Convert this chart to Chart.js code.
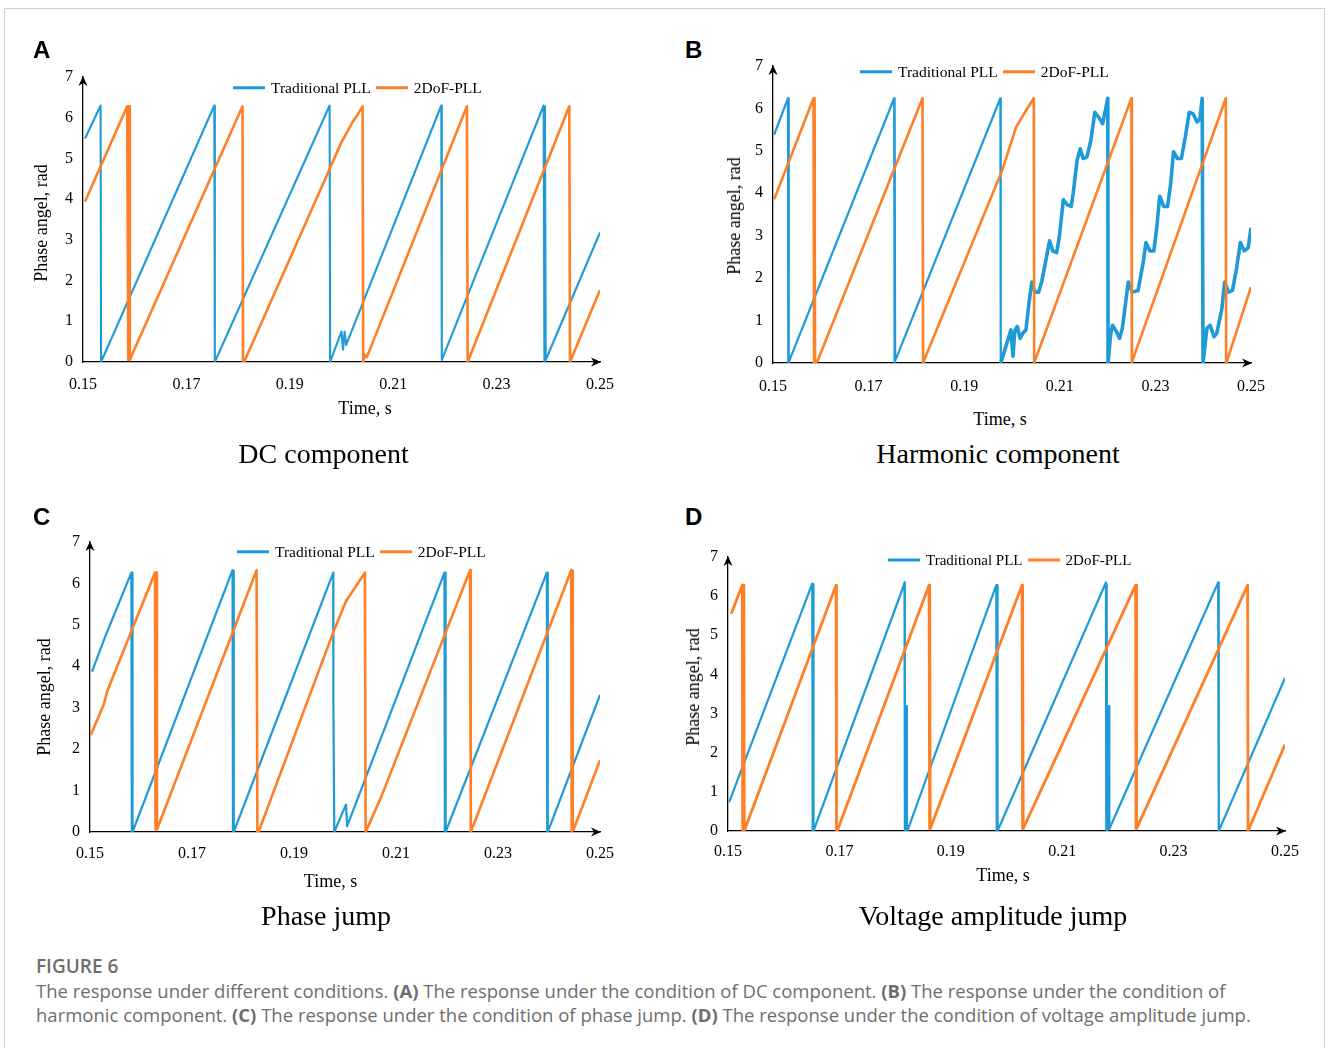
<!DOCTYPE html>
<html><head><meta charset="utf-8">
<script src="https://cdn.jsdelivr.net/npm/chart.js@4.4.0/dist/chart.umd.min.js"></script>
<style>
html,body{margin:0;padding:0;background:#fff;}
body{width:1328px;height:1048px;position:relative;overflow:hidden;font-family:'Liberation Serif','Times New Roman',serif;color:#000;}
.frame{position:absolute;left:4px;top:8px;width:1321px;height:1060px;border:1px solid #cfcfcf;box-sizing:border-box;}
canvas.cv{position:absolute;}
.lbl{position:absolute;white-space:nowrap;transform:translate(-50%,-50%);line-height:1;}
.ytitle{transform:translate(-50%,-50%) rotate(-90deg);}
.letter{position:absolute;font-family:'Liberation Sans',Arial,sans-serif;font-weight:bold;font-size:24px;line-height:1;}
.legend{position:absolute;display:flex;align-items:center;transform:translateY(-50%);white-space:nowrap;line-height:1;}
.legend .sw{display:inline-block;width:32px;height:3px;margin-right:6px;}
.legend .txt{margin-right:5px;}
.capt{position:absolute;left:36px;font-family:'Open Sans',sans-serif;color:#6e6e6e;white-space:nowrap;}
</style>
</head><body>
<div class="frame"></div>

<canvas id="cA" class="cv" width="604" height="345" style="left:23px;top:57px"></canvas>
<canvas id="cB" class="cv" width="566" height="357" style="left:713px;top:46px"></canvas>
<canvas id="cC" class="cv" width="596" height="350" style="left:30px;top:522px"></canvas>
<canvas id="cD" class="cv" width="642" height="334" style="left:668px;top:537px"></canvas>

<div class="letter" style="left:33px;top:38px">A</div>
<div class="letter" style="left:685px;top:38px">B</div>
<div class="letter" style="left:33px;top:505px">C</div>
<div class="letter" style="left:685px;top:505px">D</div>

<div id="lgA" class="legend" style="left:233px;top:88px;font-size:15.5px"></div>
<div id="lgB" class="legend" style="left:860px;top:72px;font-size:15.5px"></div>
<div id="lgC" class="legend" style="left:237px;top:552px;font-size:15.5px"></div>
<div id="lgD" class="legend" style="left:888px;top:560px;font-size:15px"></div>

<div id="texts"></div>

<div class="capt" style="top:956px;line-height:20px;font-size:19px;font-weight:600;">FIGURE 6</div>
<div class="capt" style="top:979px;line-height:24px;font-size:18.5px;">The response under different conditions. <b>(A)</b> The response under the condition of DC component. <b>(B)</b> The response under the condition of<br>harmonic component. <b>(C)</b> The response under the condition of phase jump. <b>(D)</b> The response under the condition of voltage amplitude jump.</div>

<script>
// ---------- data ----------
const timeTicks = ['0.15','0.17','0.19','0.21','0.23','0.25'];
const angleTicks = ['0','1','2','3','4','5','6','7'];
const seriesNames = ['Traditional PLL','2DoF-PLL'];
const panelTitles = ['DC component','Harmonic component','Phase jump','Voltage amplitude jump'];
const xAxisTitle = 'Time, s';
const yAxisTitle = 'Phase angel, rad';

// (A) DC component
const dcTradT = [0.1504,0.1534,0.1535,0.1754,0.1755,0.1977,0.1978,0.2000,0.2003,0.2006,0.2009,0.2193,0.2194,0.2391,0.23925,0.23935,0.2395,0.2500];
const dcTradY = [5.49,6.30,0.00,6.30,0.00,6.30,0.00,0.75,0.30,0.75,0.42,6.30,0.05,6.30,0.00,6.28,0.05,3.18];
const dcDofT = [0.1504,0.15855,0.15875,0.1589,0.15905,0.1592,0.18085,0.18095,0.18122,0.1976,0.19988,0.20217,0.2030,0.20408,0.2042,0.20446,0.2049,0.22426,0.2244,0.24406,0.2442,0.2500];
const dcDofY = [3.94,6.28,0.05,6.28,0.05,0.10,6.28,0.00,0.02,4.71,5.37,5.90,6.05,6.28,0.00,0.18,0.12,6.28,0.00,6.28,0.00,1.77];

// (B) Harmonic component
const harmTradT = [0.15025,0.15313,0.1532,0.15325,0.15333,0.17535,0.1754,0.17548,0.17556,0.19757,0.19765,0.19979,0.2002,0.20062,0.20111,0.20169,0.20226,0.20292,0.20358,0.20416,0.20481,0.20556,0.20621,0.2070,0.20786,0.20852,0.20934,0.20992,0.21074,0.21156,0.21239,0.2128,0.21362,0.21428,0.21486,0.21568,0.2165,0.21733,0.21815,0.21897,0.21938,0.22004,0.2201,
  0.22062,0.22103,0.22185,0.22251,0.22309,0.22432,0.22515,0.22638,0.22745,0.22802,0.22885,0.22967,0.23025,0.2309,0.23173,0.23255,0.23321,0.23379,0.23461,0.23543,0.23626,0.23708,0.2379,0.23872,0.2393,0.23979,0.23996,
  0.24012,0.24078,0.24144,0.24226,0.24284,0.24391,0.24449,0.24531,0.24613,0.24696,0.24778,0.2486,0.24942,0.25];
const harmTradY = [5.38,6.24,0.00,6.24,0.02,6.24,0.00,6.20,0.05,6.24,0.00,0.78,0.16,0.78,0.86,0.58,0.70,0.78,1.44,1.91,1.67,1.67,1.91,2.37,2.88,2.64,2.60,2.99,3.85,3.73,3.69,4.00,4.78,5.05,4.82,4.86,5.25,5.91,5.79,5.64,5.87,6.24,0.00,
  0.66,0.89,0.74,0.58,0.82,1.91,1.67,1.71,2.37,2.84,2.64,2.64,3.15,3.93,3.69,3.69,4.24,4.98,4.82,4.82,5.33,5.91,5.87,5.68,5.75,6.24,0.00,
  0.00,0.82,0.89,0.62,0.70,1.28,1.91,1.67,1.71,2.22,2.84,2.64,2.72,3.19];
const harmDofT = [0.15025,0.15848,0.1586,0.1587,0.1588,0.1593,0.18128,0.1814,0.18152,0.19798,0.20086,0.20292,0.20457,0.20465,0.2047,0.22498,0.22505,0.2251,0.24473,0.2448,0.2449,0.25];
const harmDofY = [3.86,6.24,0.00,6.24,0.00,0.04,6.24,0.00,0.04,4.55,5.56,5.95,6.24,0.00,0.02,6.24,0.00,0.02,6.24,0.00,0.02,1.79];

// (C) Phase jump
const jumpTradT = [0.15039,0.15309,0.15811,0.1582,0.15826,0.15834,0.17795,0.17803,0.1781,0.17819,0.1977,0.19772,0.1979,0.20019,0.20042,0.2195,0.21958,0.21965,0.21973,0.23958,0.23965,0.23972,0.2398,0.25];
const jumpTradY = [3.87,4.75,6.26,0.00,6.26,0.00,6.32,0.00,6.30,0.00,6.26,3.08,0.00,0.66,0.14,6.26,0.00,6.26,0.00,6.26,0.00,6.26,0.00,3.31];
const jumpDofT = [0.15015,0.1527,0.15347,0.16274,0.16285,0.16297,0.16313,0.18266,0.18282,0.18305,0.19772,0.20019,0.2039,0.20405,0.20714,0.22452,0.22467,0.24436,0.24445,0.24455,0.24465,0.24483,0.25];
const jumpDofY = [2.34,3.08,3.43,6.26,0.06,6.26,0.06,6.32,0.00,0.00,4.83,5.57,6.26,0.00,0.86,6.32,0.00,6.32,0.00,6.30,0.06,0.06,1.73];

// (D) Voltage amplitude jump
const ampTradT = [0.15021,0.16513,0.1652,0.16527,0.16535,0.18147,0.18169,0.18175,0.1819,0.18204,0.18212,0.18219,0.19817,0.19825,0.19832,0.19839,0.21785,0.21792,0.21799,0.21806,0.21842,0.21846,0.2380,0.23807,0.23815,0.25];
const ampTradY = [0.74,6.32,0.00,6.30,0.00,6.24,6.35,0.00,0.00,3.19,0.00,0.00,6.28,0.00,6.28,0.00,6.35,0.00,6.30,0.00,3.19,0.05,6.35,0.00,0.00,3.91];
const ampDofT = [0.15057,0.15256,0.1526,0.15268,0.15276,0.15284,0.15292,0.15306,0.1694,0.16948,0.16961,0.18609,0.18616,0.18624,0.18631,0.20279,0.20286,0.20293,0.203,0.22318,0.22325,0.22332,0.22339,0.24329,0.24336,0.25];
const ampDofY = [5.55,6.28,0.00,6.28,0.00,6.28,0.00,0.06,6.28,0.00,0.00,6.28,0.06,6.28,0.06,6.28,0.06,6.28,0.06,6.28,0.06,6.28,0.06,6.28,0.00,2.21];

// ---------- style ----------
const BLUE = '#1e9ad8';
const ORANGE = '#ff7f27';
const SERIF = "'Liberation Serif','Times New Roman',serif";

const axisArrows = {
  id: 'axisArrows',
  afterDraw(chart) {
    const {ctx, chartArea: {left, right, top, bottom}} = chart;
    ctx.save();
    ctx.fillStyle = '#000';
    ctx.beginPath();
    ctx.moveTo(left, top - 1); ctx.lineTo(left + 4.5, top + 9); ctx.lineTo(left, top + 6); ctx.lineTo(left - 4.5, top + 9);
    ctx.closePath(); ctx.fill();
    ctx.beginPath();
    ctx.moveTo(right + 1, bottom); ctx.lineTo(right - 9, bottom - 4.5); ctx.lineTo(right - 6, bottom); ctx.lineTo(right - 9, bottom + 4.5);
    ctx.closePath(); ctx.fill();
    ctx.restore();
  }
};

function pts(t, y) { return t.map((v, i) => ({x: v, y: y[i]})); }

function makeChart(id, tradT, tradY, dofT, dofY, st) {
  const blueDs = {label: seriesNames[0], data: pts(tradT, tradY), borderColor: BLUE, backgroundColor: BLUE,
    borderWidth: st.bw[0], pointRadius: 0, tension: 0, borderJoinStyle: 'round', order: 1};
  if (st.seg) blueDs.segment = st.seg;
  const orangeDs = {label: seriesNames[1], data: pts(dofT, dofY), borderColor: ORANGE, backgroundColor: ORANGE,
    borderWidth: st.bw[1], pointRadius: 0, tension: 0, borderJoinStyle: 'round', order: 0};
  return new Chart(document.getElementById(id), {
    type: 'line',
    data: {datasets: [blueDs, orangeDs]},
    options: {
      responsive: false, animation: false, events: [],
      layout: {padding: {top: 20, right: 25, left: 0, bottom: 0}},
      plugins: {legend: {display: false}, tooltip: {enabled: false}, title: {display: false}},
      scales: {
        x: {
          type: 'linear', min: 0.15, max: 0.25,
          grid: {display: false, drawTicks: false},
          border: {display: true, color: '#000', width: 1.3},
          afterBuildTicks: s => { s.ticks = timeTicks.map(v => ({value: parseFloat(v)})); },
          afterFit: s => { s.height = 40; },
          ticks: {padding: st.xpad, color: '#000', maxRotation: 0, autoSkip: false,
            font: {family: SERIF, size: 16}, callback: (v, i) => timeTicks[i]}
        },
        y: {
          type: 'linear', min: 0, max: 7,
          grid: {display: false, drawTicks: false},
          border: {display: true, color: '#000', width: 1.3},
          afterBuildTicks: s => { s.ticks = angleTicks.map(v => ({value: parseFloat(v)})); },
          afterFit: s => { s.width = 60; },
          ticks: {padding: 10, color: '#000', autoSkip: false,
            font: {family: SERIF, size: 16}, callback: (v, i) => angleTicks[i]}
        }
      }
    },
    plugins: [axisArrows]
  });
}

const chA = makeChart('cA', dcTradT, dcTradY, dcDofT, dcDofY, {bw: [2.1, 2.6], xpad: 13});
const chB = makeChart('cB', harmTradT, harmTradY, harmDofT, harmDofY, {bw: [2.2, 2.6], xpad: 14,
  seg: {borderWidth: c => (c.p0.parsed.x > 0.1976 ? 3.6 : 2.2)}});
const chC = makeChart('cC', jumpTradT, jumpTradY, jumpDofT, jumpDofY, {bw: [2.2, 2.6], xpad: 12});
const chD = makeChart('cD', ampTradT, ampTradY, ampDofT, ampDofY, {bw: [2.2, 2.8], xpad: 11});

function buildLegend(chart, elId) {
  const el = document.getElementById(elId);
  chart.data.datasets.forEach(ds => {
    const sw = document.createElement('span'); sw.className = 'sw'; sw.style.background = ds.borderColor;
    const tx = document.createElement('span'); tx.className = 'txt'; tx.textContent = ds.label;
    el.appendChild(sw); el.appendChild(tx);
  });
}
buildLegend(chA, 'lgA'); buildLegend(chB, 'lgB'); buildLegend(chC, 'lgC'); buildLegend(chD, 'lgD');

// axis titles and panel titles
const textLayer = document.getElementById('texts');
function addText(txt, x, y, size, cls) {
  const d = document.createElement('div');
  d.className = 'lbl' + (cls ? ' ' + cls : '');
  d.style.left = x + 'px'; d.style.top = y + 'px'; d.style.fontSize = size + 'px';
  d.textContent = txt;
  textLayer.appendChild(d);
}
addText(yAxisTitle, 40.5, 222.5, 18, 'ytitle');
addText(yAxisTitle, 734, 215.5, 18, 'ytitle');
addText(yAxisTitle, 43.5, 697, 18, 'ytitle');
addText(yAxisTitle, 692.5, 686.5, 18, 'ytitle');
addText(xAxisTitle, 365, 407.5, 18);
addText(xAxisTitle, 1000, 418.5, 18);
addText(xAxisTitle, 330.5, 881, 18);
addText(xAxisTitle, 1003, 875, 18);
addText(panelTitles[0], 323.5, 453.5, 28);
addText(panelTitles[1], 998, 453.5, 28);
addText(panelTitles[2], 326, 916, 28);
addText(panelTitles[3], 993, 916, 28);
</script>
</body></html>
